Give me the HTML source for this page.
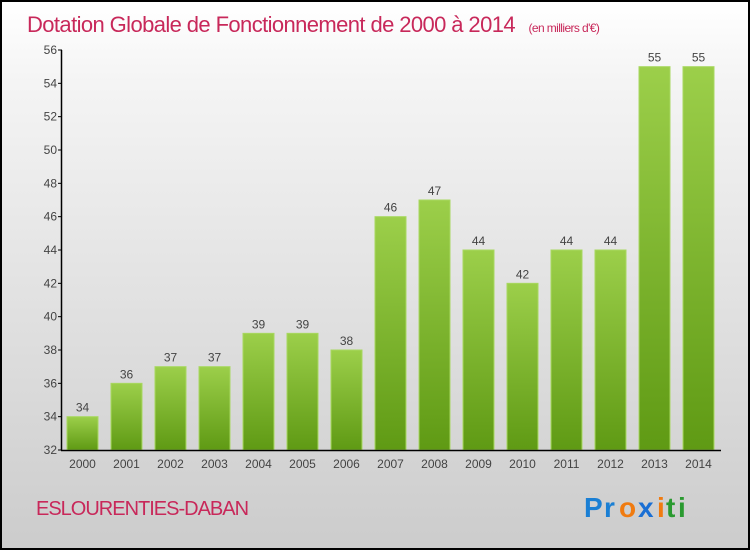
<!DOCTYPE html>
<html><head><meta charset="utf-8"><style>
body{margin:0}
#c{width:750px;height:550px;position:relative;box-sizing:border-box;border:2px solid #000;background:linear-gradient(#fff,#f4f4f4 15%,#ccc);font-family:"Liberation Sans",sans-serif;overflow:hidden}
</style></head><body>
<div id="c">
<svg width="746" height="546" style="position:absolute;left:0;top:0">
<defs><linearGradient id="g" x1="0" y1="0" x2="0" y2="1"><stop offset="0" stop-color="#9ccf4a"/><stop offset="1" stop-color="#5f9a14"/></linearGradient></defs>
<text x="25" y="30" font-size="22" fill="#c8285a" style="letter-spacing:-0.6px">Dotation Globale de Fonctionnement de 2000 à 2014 <tspan font-size="12" dx="8">(en milliers d'€)</tspan></text>
<g id="plot"></g>
<text x="34" y="513" font-size="20" fill="#c8285a" style="letter-spacing:-1px">ESLOURENTIES-DABAN</text>
<g font-size="28" font-weight="bold" font-family="Liberation Sans,sans-serif">
<text x="582" y="515" fill="#1a7fd4">P</text><text x="602" y="515" fill="#1a7fd4">r</text><text x="617" y="515" fill="#f07b10">o</text><text x="636" y="515" fill="#1a6fd4">x</text><text x="655" y="515" fill="#f07b10">i</text><text x="664" y="515" fill="#2a9a30">t</text><text x="676" y="515" fill="#2a9a30">i</text></g>
</svg></div>
<script>
const years=["2000","2001","2002","2003","2004","2005","2006","2007","2008","2009","2010","2011","2012","2013","2014"];
const values=[34,36,37,37,39,39,38,46,47,44,42,44,44,55,55];
const yTicks=[32,34,36,38,40,42,44,46,48,50,52,54,56];
const NS="http://www.w3.org/2000/svg";
const g=document.getElementById('plot');
const y=v=>448-(v-32)*(400/24);
const x=i=>65+i*44;
function el(t,a){const e=document.createElementNS(NS,t);for(const k in a)e.setAttribute(k,a[k]);g.appendChild(e);return e;}
values.forEach((v,i)=>{
 const r=el('rect',{x:x(i),y:y(v),width:31,height:y(32)-y(v),fill:'url(#g)',stroke:'#a8d860','stroke-width':1});
 
 
 const t=el('text',{x:x(i)+15.5,y:y(v)-5,'text-anchor':'middle','font-size':12,fill:'#444'});
 t.textContent=v;
 
 
 const xl=el('text',{x:x(i)+15.5,y:466,'text-anchor':'middle','font-size':12,fill:'#444'});
 xl.textContent=years[i];
 
 
});
yTicks.forEach(v=>{
 const l=el('line',{x1:56,x2:60,y1:y(v),y2:y(v),stroke:'#000'});
 
 
 const t=el('text',{x:55,y:y(v)+4,'text-anchor':'end','font-size':12,fill:'#444'});
 t.textContent=v;
 
 
});
const ya=el('line',{x1:59.5,x2:59.5,y1:y(56),y2:y(32),stroke:'#000','stroke-width':1.5});


const xa=el('line',{x1:59,x2:719,y1:y(32)+0.5,y2:y(32)+0.5,stroke:'#000','stroke-width':1.5});


</script>
</body></html>
